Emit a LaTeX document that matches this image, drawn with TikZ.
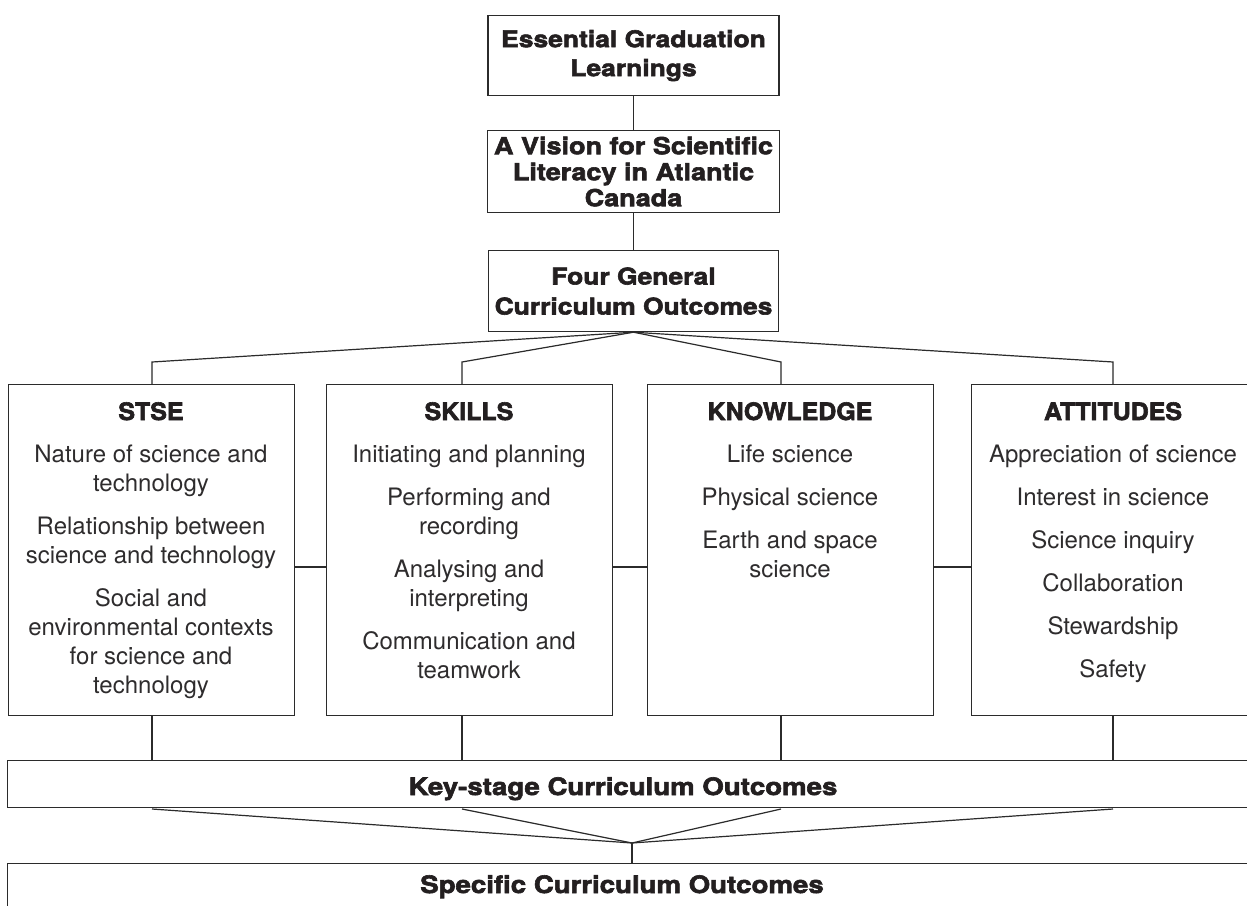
\documentclass[tikz,border=0pt]{standalone}
\usepackage{fontspec}
\newfontfamily\bodyfont{TeX Gyre Heros}
\newfontfamily\headwide{TeX Gyre Heros}[FakeStretch=1.15,BoldFeatures={FakeBold=2.5}]
\newfontfamily\headbox{TeX Gyre Heros}[FakeStretch=1.04,BoldFeatures={FakeBold=2.5}]
\definecolor{linec}{HTML}{2B2B2B}
\definecolor{txt}{HTML}{231F20}
\definecolor{bodytxt}{HTML}{2E2C2D}
\tikzset{
  box/.style={draw=linec, line width=1.2pt, inner sep=0pt, rectangle},
  conn/.style={draw=linec, line width=1.2pt},
  headA/.style={font=\headwide\bfseries\fontsize{23}{29}\selectfont, text=txt, align=center},
  headB/.style={font=\headbox\bfseries\fontsize{24}{29}\selectfont, text=txt, inner sep=0pt},
  body/.style={font=\bodyfont\fontsize{24}{29}\selectfont, text=bodytxt, align=center, inner sep=0pt},
}
\begin{document}
\begin{tikzpicture}[x=1pt,y=-1pt]
\useasboundingbox (0,0) rectangle (1247,905);
\clip (0,0) rectangle (1247,905);
\fill[white] (0,0) rectangle (1247,905);

% top chain
\node[box, headA, minimum width=291, minimum height=80, anchor=north] (egl) at (633.5,15) {Essential Graduation\\Learnings};
\node[box, headA, font=\headwide\bfseries\fontsize{23.5}{26}\selectfont, minimum width=292, minimum height=82, anchor=north] (vision) at (633.5,130) {A Vision for Scientific\\Literacy in Atlantic\\Canada};
\node[box, headA, font=\headwide\bfseries\fontsize{23}{30}\selectfont, minimum width=290, minimum height=81, anchor=north] (four) at (633.5,250) {Four General\\Curriculum Outcomes};

\draw[conn] (egl.south) -- (egl.south |- vision.north);
\draw[conn] (vision.south) -- (vision.south |- four.north);

% four outcome boxes
\node[box, minimum width=286, minimum height=331, anchor=north west] (stse) at (8,384) {};
\node[box, minimum width=286, minimum height=331, anchor=north west] (skills) at (326,384) {};
\node[box, minimum width=286, minimum height=331, anchor=north west] (know) at (647,384) {};
\node[box, minimum width=286, minimum height=331, anchor=north west] (att) at (971,384) {};

\node[headB, anchor=base] (stseH) at (151,420) {STSE};
\node[headB, anchor=base] (skillsH) at (469,420) {SKILLS};
\node[headB, anchor=base] (knowH) at (790,420) {KNOWLEDGE};
\node[headB, anchor=base] (attH) at (1113,420) {ATTITUDES};

\node[body, anchor=north] (stseT) at (151,444.5) {Nature of science and\\technology\\[14pt]Relationship between\\science and technology\\[14pt]Social and\\environmental contexts\\for science and\\technology};
\node[body, anchor=north] (skillsT) at (469,444.5) {Initiating and planning\\[14pt]Performing and\\recording\\[14pt]Analysing and\\interpreting\\[14pt]Communication and\\teamwork};
\node[body, anchor=north] (knowT) at (790,444.5) {Life science\\[14pt]Physical science\\[14pt]Earth and space\\science};
\node[body, anchor=north] (attT) at (1113,444.5) {Appreciation of science\\[14pt]Interest in science\\[14pt]Science inquiry\\[14pt]Collaboration\\[14pt]Stewardship\\[14pt]Safety};

% fan from four
\coordinate (k1) at (152,362);
\coordinate (k2) at (462,362);
\coordinate (k3) at (781,362);
\coordinate (k4) at (1113,362);
\draw[conn] (four.south) -- (k1) -- (k1 |- stse.north);
\draw[conn] (four.south) -- (k2) -- (k2 |- skills.north);
\draw[conn] (four.south) -- (k3) -- (k3 |- know.north);
\draw[conn] (four.south) -- (k4) -- (k4 |- att.north);

% horizontal links
\coordinate (h) at (0,567);
\draw[conn] (stse.east |- h) -- (skills.west |- h);
\draw[conn] (skills.east |- h) -- (know.west |- h);
\draw[conn] (know.east |- h) -- (att.west |- h);

% key-stage and specific
\node[box, minimum width=1300, minimum height=47, anchor=north west] (key) at (7,760) {};
\node[headA, font=\headwide\bfseries\fontsize{24}{29}\selectfont, anchor=base, inner sep=0pt] (keyT) at (623,795) {Key-stage Curriculum Outcomes};
\node[box, minimum width=1300, minimum height=90, anchor=north west] (spec) at (7,863) {};
\node[headA, font=\headwide\bfseries\fontsize{24}{29}\selectfont, anchor=base, inner sep=0pt] (specT) at (622,893) {Specific Curriculum Outcomes};

\draw[conn] (k1 |- stse.south) -- (k1 |- key.north);
\draw[conn] (k2 |- skills.south) -- (k2 |- key.north);
\draw[conn] (k3 |- know.south) -- (k3 |- key.north);
\draw[conn] (k4 |- att.south) -- (k4 |- key.north);

\coordinate (bapex) at (632,843);
\coordinate (b) at (0,809);
\draw[conn] (k1 |- b) -- (bapex);
\draw[conn] (k2 |- b) -- (bapex);
\draw[conn] (k3 |- b) -- (bapex);
\draw[conn] (k4 |- b) -- (bapex);
\draw[conn] (bapex) -- (bapex |- spec.north);
\end{tikzpicture}
\end{document}
